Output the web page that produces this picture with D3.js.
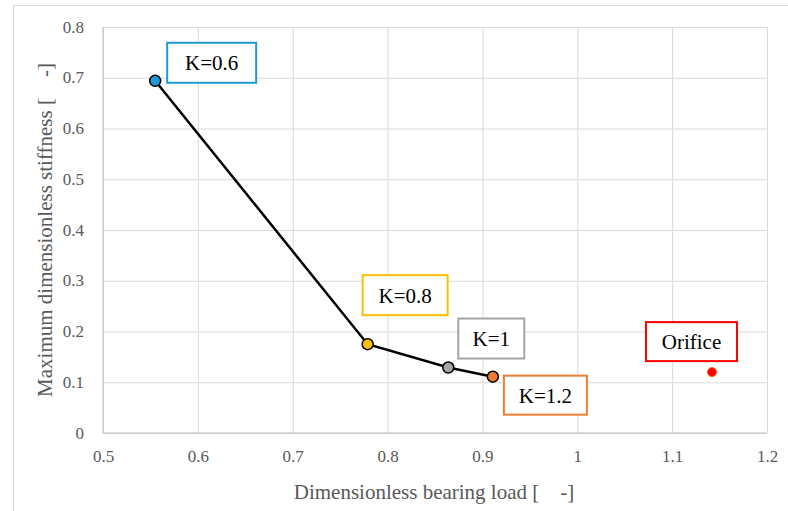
<!DOCTYPE html>
<html>
<head>
<meta charset="utf-8">
<script src="https://cdn.jsdelivr.net/npm/d3@7"></script>
<style>
  body { margin: 0; background: #fff; }
  svg { display: block; }
</style>
</head>
<body>
<svg width="788" height="511"></svg>
<script>
  // values
  const seriesNames = ['K=0.6', 'K=0.8', 'K=1', 'K=1.2'];
  const loadValues = [0.555, 0.779, 0.864, 0.911];
  const stiffnessValues = [0.694, 0.175, 0.129, 0.111];
  const orificeLoad = 1.142;
  const orificeStiffness = 0.120;
  const xTicks = [0.5, 0.6, 0.7, 0.8, 0.9, 1, 1.1, 1.2];
  const yTicks = [0, 0.1, 0.2, 0.3, 0.4, 0.5, 0.6, 0.7, 0.8];

  const serif = '"Liberation Serif", "Times New Roman", serif';
  const pointColors = ['#1E9BD7', '#FFC000', '#A5A5A5', '#ED7D31'];
  // label box placement relative to its point: [dx, dy, width, height]
  const labelBoxes = [[12, -38, 89, 40], [-5, -69, 85, 40], [10, -49, 66, 40], [11, -1, 83, 39]];
  const orificeBox = [-66, -50, 91, 39];

  const svg = d3.select('svg').style('font-family', serif);
  const margin = { top: 27, left: 103, right: 21, bottom: 78 };
  const width = +svg.attr('width');
  const height = +svg.attr('height');
  const innerWidth = width - margin.left - margin.right;
  const innerHeight = height - margin.top - margin.bottom;

  // outer chart frame (runs off the right and bottom edges)
  svg.append('path')
      .attr('d', `M13.5,${height}V5.5H${width}`)
      .attr('fill', 'none')
      .attr('stroke', '#d9d9d9');

  const xScale = d3.scaleLinear().domain([0.5, 1.2]).range([0, innerWidth]);
  const yScale = d3.scaleLinear().domain([0, 0.8]).range([innerHeight, 0]);

  const g = svg.append('g')
      .attr('transform', `translate(${margin.left},${margin.top})`);

  const fmt = d => String(+d.toFixed(1));

  const xAxis = d3.axisBottom(xScale)
      .tickValues(xTicks)
      .tickSize(-innerHeight)
      .tickPadding(17)
      .tickFormat(fmt);

  const yAxis = d3.axisLeft(yScale)
      .tickValues(yTicks)
      .tickSize(-innerWidth)
      .tickPadding(19)
      .tickFormat(fmt);

  const styleAxis = axisG => {
    axisG.attr('font-family', serif).attr('font-size', 17);
    axisG.select('.domain').remove();
    axisG.selectAll('.tick line').attr('stroke', '#d9d9d9');
    axisG.selectAll('.tick text')
        .style('font-family', serif)
        .style('font-size', '17px')
        .attr('fill', '#595959');
  };

  const yAxisG = g.append('g').call(yAxis).call(styleAxis);
  yAxisG.selectAll('.tick text').attr('dy', '0.3em');

  const xAxisG = g.append('g').call(xAxis)
      .attr('transform', `translate(0,${innerHeight})`)
      .call(styleAxis);

  // axis lines
  g.append('line')
      .attr('x1', 0).attr('x2', 0).attr('y1', 0).attr('y2', innerHeight)
      .attr('stroke', '#bfbfbf');
  g.append('line')
      .attr('x1', 0).attr('x2', innerWidth).attr('y1', innerHeight).attr('y2', innerHeight)
      .attr('stroke', '#bfbfbf');

  g.append('text')
      .attr('x', 434 - margin.left)
      .attr('y', innerHeight + 66)
      .attr('text-anchor', 'middle')
      .attr('fill', '#595959')
      .style('font-size', '21px')
      .style('white-space', 'pre')
      .text('Dimensionless bearing load [    -]');

  g.append('text')
      .attr('transform', 'rotate(-90)')
      .attr('x', -innerHeight / 2)
      .attr('y', -51)
      .attr('text-anchor', 'middle')
      .attr('fill', '#595959')
      .style('font-size', '21px')
      .style('white-space', 'pre')
      .text('Maximum dimensionless stiffness [    -]');

  const pts = seriesNames.map((name, i) => ({
    name, x: loadValues[i], y: stiffnessValues[i], color: pointColors[i], box: labelBoxes[i]
  }));

  const line = d3.line().x(d => xScale(d.x)).y(d => yScale(d.y));
  g.append('path')
      .datum(pts)
      .attr('d', line)
      .attr('fill', 'none')
      .attr('stroke', '#000')
      .attr('stroke-width', 2.5);

  g.selectAll('circle.pt').data(pts)
    .enter().append('circle')
      .attr('class', 'pt')
      .attr('cx', d => xScale(d.x))
      .attr('cy', d => yScale(d.y))
      .attr('r', 5.5)
      .attr('fill', d => d.color)
      .attr('stroke', '#000')
      .attr('stroke-width', 1.5);

  const drawLabel = (px, py, box, color, text) => {
    const [dx, dy, w, h] = box;
    g.append('rect')
        .attr('x', px + dx).attr('y', py + dy)
        .attr('width', w).attr('height', h)
        .attr('fill', '#fff')
        .attr('stroke', color)
        .attr('stroke-width', 2);
    g.append('text')
        .attr('x', px + dx + w / 2)
        .attr('y', py + dy + h / 2)
        .attr('dy', '0.35em')
        .attr('text-anchor', 'middle')
        .attr('fill', '#000')
        .style('font-size', '21px')
        .text(text);
  };

  pts.forEach(d => drawLabel(xScale(d.x), yScale(d.y), d.box, d.color, d.name));

  g.append('circle')
      .attr('cx', xScale(orificeLoad))
      .attr('cy', yScale(orificeStiffness))
      .attr('r', 4.5)
      .attr('fill', '#FF0000')
      .attr('stroke', '#FF6A00')
      .attr('stroke-width', 1);

  drawLabel(xScale(orificeLoad), yScale(orificeStiffness), orificeBox, '#FF0000', 'Orifice');
</script>
</body>
</html>
